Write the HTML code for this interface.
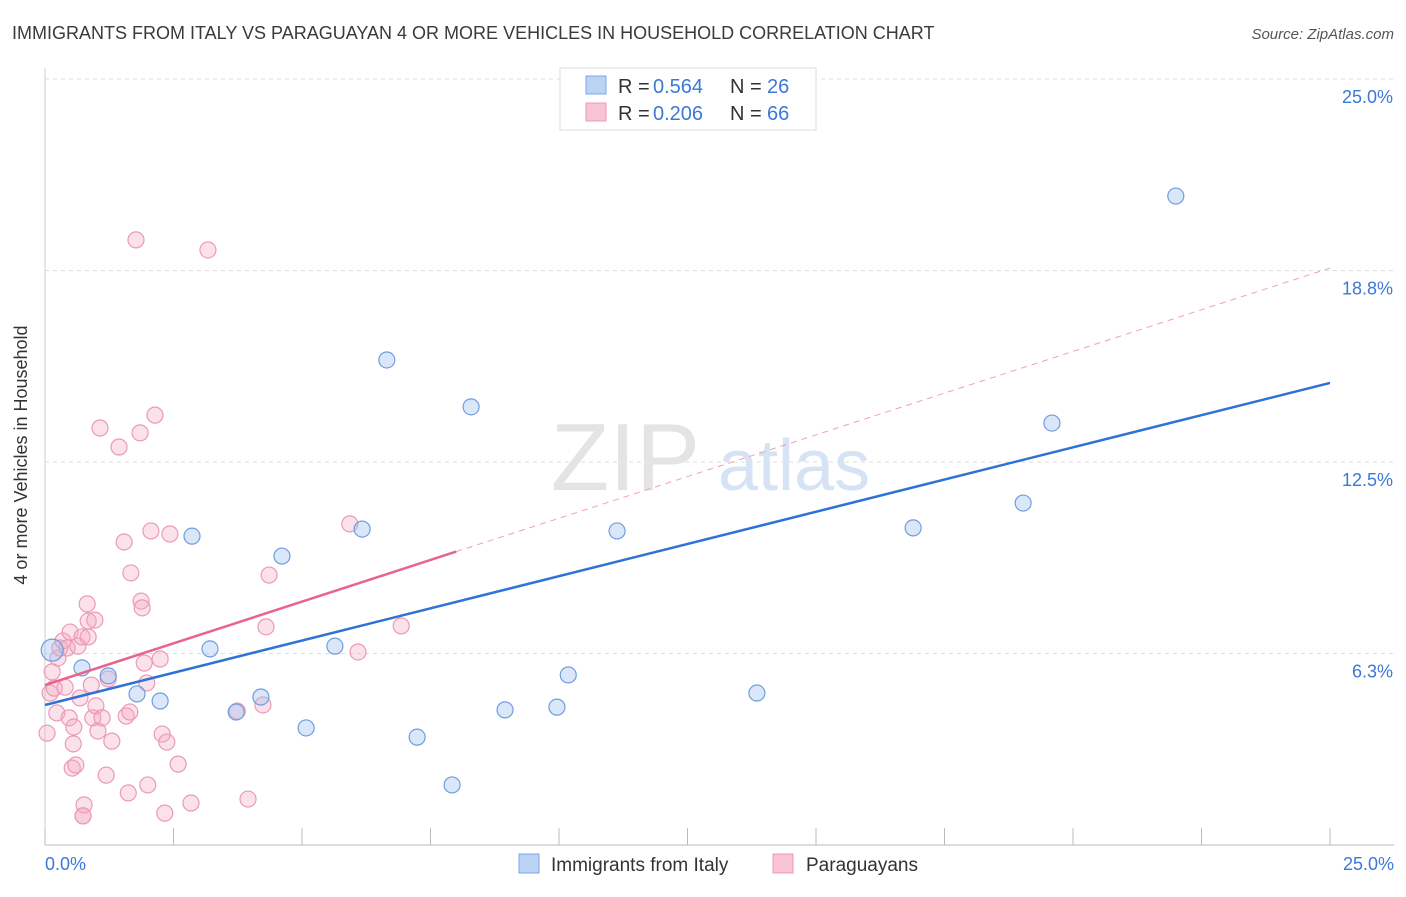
<!DOCTYPE html>
<html><head><meta charset="utf-8"><style>
body{margin:0;background:#fff;font-family:"Liberation Sans",sans-serif;}
svg text{font-family:"Liberation Sans",sans-serif;}
</style></head><body>
<svg width="1406" height="892" xmlns="http://www.w3.org/2000/svg">
<text x="12" y="39" font-size="18" fill="#3a3a3a">IMMIGRANTS FROM ITALY VS PARAGUAYAN 4 OR MORE VEHICLES IN HOUSEHOLD CORRELATION CHART</text>
<text x="1394" y="39" font-size="15" fill="#555" font-style="italic" text-anchor="end">Source: ZipAtlas.com</text>
<g id="grid"></g>
<text x="700" y="490" font-size="96" fill="#e4e4e4" font-family="Liberation Serif" text-anchor="end">ZIP</text>
<text x="718" y="490" font-size="72" fill="#d5e3f5">atlas</text>
<g id="marks"></g>
<text x="27" y="455" font-size="18" fill="#333" transform="rotate(-90 27 455)" text-anchor="middle">4 or more Vehicles in Household</text>
<g>
<rect x="560" y="68" width="256" height="62" fill="#fff" stroke="#ddd"/>
<rect x="586" y="76" width="20" height="18" fill="#b9d3f5" stroke="#7ea7e2"/>
<rect x="586" y="103" width="20" height="18" fill="#f8c3d3" stroke="#ea9ab5"/>
<text x="618" y="93" font-size="20" fill="#333">R =</text><text x="653" y="93" font-size="20" fill="#3b78d8">0.564</text>
<text x="730" y="93" font-size="20" fill="#333">N =</text><text x="767" y="93" font-size="20" fill="#3b78d8">26</text>
<text x="618" y="120" font-size="20" fill="#333">R =</text><text x="653" y="120" font-size="20" fill="#3b78d8">0.206</text>
<text x="730" y="120" font-size="20" fill="#333">N =</text><text x="767" y="120" font-size="20" fill="#3b78d8">66</text>
</g>
<g>
<rect x="519" y="854" width="20" height="19" fill="#b9d3f5" stroke="#7ea7e2"/>
<text x="551" y="871" font-size="19" fill="#333">Immigrants from Italy</text>
<rect x="773" y="854" width="20" height="19" fill="#f8c3d3" stroke="#ea9ab5"/>
<text x="806" y="871" font-size="19" fill="#333">Paraguayans</text>
</g>
<text x="45" y="870" font-size="18" fill="#3b78d8">0.0%</text>
<text x="1394" y="870" font-size="18" fill="#3b78d8" text-anchor="end">25.0%</text>
</svg>
<script>
const blueX=[0.14,0.72,1.23,1.79,2.24,2.86,3.21,3.72,4.20,4.61,5.08,5.64,6.17,6.65,7.24,7.92,8.29,8.95,9.96,10.18,11.13,13.85,16.89,19.03,19.59,22.00];
const blueY=[6.36,5.78,5.52,4.93,4.70,10.08,6.40,4.34,4.83,9.43,3.82,6.49,10.31,15.83,3.52,1.96,14.30,4.41,4.50,5.55,10.25,4.96,10.35,11.16,13.77,21.18];
const pinkX=[0.04,0.10,0.14,0.18,0.23,0.25,0.29,0.35,0.39,0.43,0.47,0.49,0.53,0.55,0.56,0.60,0.64,0.68,0.72,0.76,0.74,0.82,0.84,0.84,0.90,0.93,0.97,0.99,1.03,1.07,1.11,1.19,1.23,1.30,1.44,1.54,1.58,1.62,1.65,1.67,1.77,1.85,1.87,1.89,1.93,2.00,1.98,2.06,2.14,2.24,2.28,2.33,2.37,2.43,2.59,2.84,3.17,3.74,4.24,4.30,4.36,3.95,5.93,6.09,6.93,0.74];
const pinkY=[3.65,4.96,5.65,5.12,4.31,6.10,6.43,6.66,5.15,6.43,4.15,6.95,2.51,3.30,3.85,2.61,6.49,4.80,6.79,1.31,0.95,7.87,7.31,6.79,5.22,4.15,7.34,4.54,3.72,13.61,4.15,2.28,5.42,3.39,12.99,9.89,4.21,1.70,4.34,8.88,19.75,13.45,7.96,7.74,5.94,1.96,5.29,10.25,14.03,6.07,3.62,1.04,3.36,10.15,2.64,1.37,19.42,4.37,4.57,7.12,8.81,1.50,10.48,6.30,7.15,0.95];
const yTicks=[6.25,12.5,18.75,25];
const yTickLabels=["6.3%","12.5%","18.8%","25.0%"];
const xTicks=[0,2.5,5,7.5,10,12.5,15,17.5,20,22.5,25];
const blueLine=[4.57,15.08];
const pinkLine=[5.22,18.83];
const pinkSolidEnd=8.0;
const sx=v=>45+v*51.4, sy=v=>845-v*30.64;
const NS="http://www.w3.org/2000/svg";
function mk(p,t,a){const e=document.createElementNS(NS,t);for(const k in a)e.setAttribute(k,a[k]);p.appendChild(e);return e;}
const g=document.getElementById('grid'),m=document.getElementById('marks');
yTicks.forEach((v,i)=>{
 const l=mk(g,'line',{x1:45,x2:1394,y1:sy(v),y2:sy(v),stroke:'#ddd','stroke-dasharray':'4,4'});
 
 
 const t=mk(g,'text',{x:1393,y:sy(v)+24,'font-size':18,fill:'#3b78d8','text-anchor':'end'});t.textContent=yTickLabels[i];
 
 
});
const ax=mk(g,'line',{x1:45,x2:1394,y1:845,y2:845,stroke:'#bbb'});


const ay=mk(g,'line',{x1:45,x2:45,y1:68,y2:845,stroke:'#ccc'});


xTicks.forEach(v=>{const t=mk(g,'line',{x1:sx(v),x2:sx(v),y1:845,y2:828,stroke:'#bbb'});
 
 });
pinkX.forEach((x,i)=>{const c=mk(m,'circle',{cx:sx(x),cy:sy(pinkY[i]),r:8,fill:'rgba(244,170,195,0.35)',stroke:'#eb9ab5','stroke-width':1.2});
 
 });
blueX.forEach((x,i)=>{const c=mk(m,'circle',{cx:sx(x),cy:sy(blueY[i]),r:i==0?11:8,fill:'rgba(160,195,240,0.4)',stroke:'#6f9de0','stroke-width':1.2});
 
 });
const pl=v=>pinkLine[0]+(pinkLine[1]-pinkLine[0])*v/25;
const bl=v=>blueLine[0]+(blueLine[1]-blueLine[0])*v/25;
const pd=mk(m,'line',{x1:sx(pinkSolidEnd),y1:sy(pl(pinkSolidEnd)),x2:sx(25),y2:sy(pl(25)),stroke:'#eda0b8','stroke-dasharray':'6,5','stroke-width':1});


const ps=mk(m,'line',{x1:sx(0),y1:sy(pl(0)),x2:sx(pinkSolidEnd),y2:sy(pl(pinkSolidEnd)),stroke:'#e8648e','stroke-width':2.5});


const b=mk(m,'line',{x1:sx(0),y1:sy(bl(0)),x2:sx(25),y2:sy(bl(25)),stroke:'#2f72d6','stroke-width':2.5});


</script>
</body></html>
